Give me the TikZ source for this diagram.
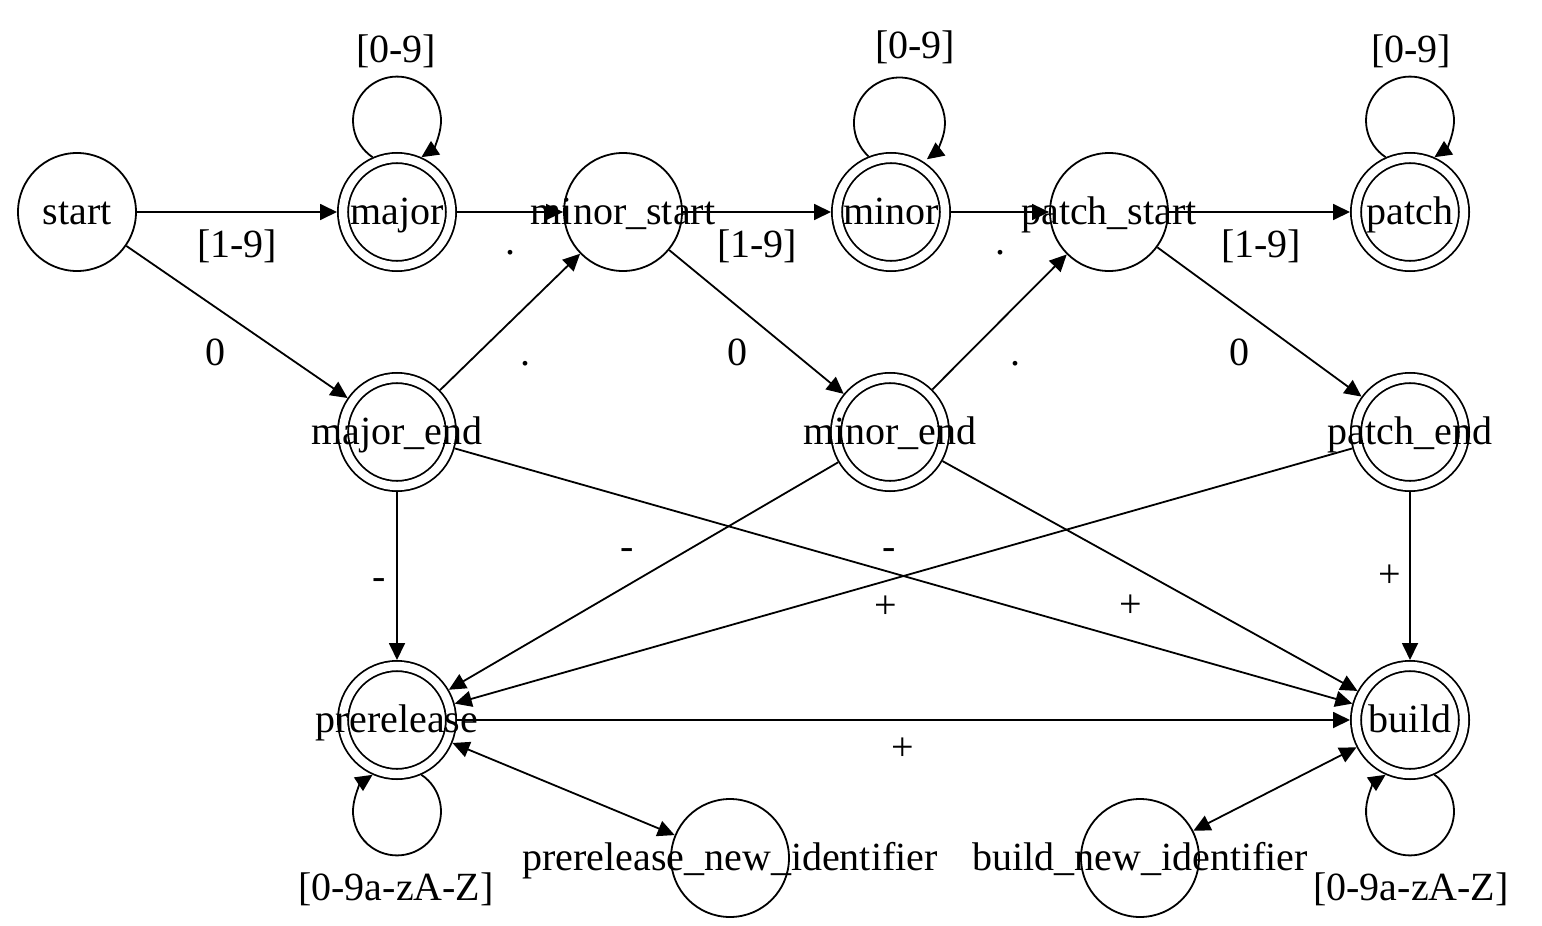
\documentclass[tikz,border=0pt]{standalone}
\usepackage{fontspec}
\setmainfont{Liberation Serif}
\usetikzlibrary{arrows.meta}
\begin{document}
\begin{tikzpicture}[x=0.5pt,y=-0.5pt,
  every node/.style={font=\fontsize{20}{24}\selectfont},
  st/.style={circle, draw, line width=0.9pt, minimum size=59pt, inner sep=0pt, text height=14.4pt, text depth=2pt},
  acc/.style={st, double, double distance=4.2pt, minimum size=54pt, outer sep=3pt},
  arr/.style={line width=0.9pt, -{Triangle[length=8.5pt,width=8pt]}},
  barr/.style={line width=0.9pt, {Triangle[length=8.5pt,width=8pt]}-{Triangle[length=8.5pt,width=8pt]}},
  lbl/.style={anchor=base, inner sep=0pt},
]
\useasboundingbox (0,0) rectangle (1542,926);

% states
\node[st]  (start)      at (77,212)   {\makebox[0pt]{start}};
\node[acc] (major)      at (397,212)  {\makebox[0pt]{major}};
\node[st]  (minorstart) at (623,212)  {\makebox[0pt]{minor\_start}};
\node[acc] (minor)      at (891,212)  {\makebox[0pt]{minor}};
\node[st]  (patchstart) at (1109,212) {\makebox[0pt]{patch\_start}};
\node[acc] (patch)      at (1410,212) {\makebox[0pt]{patch}};
\node[acc] (majorend)   at (397,432)  {\makebox[0pt]{major\_end}};
\node[acc] (minorend)   at (890,432)  {\makebox[0pt]{minor\_end}};
\node[acc] (patchend)   at (1410,432) {\makebox[0pt]{patch\_end}};
\node[acc] (prerelease) at (397,720)  {\makebox[0pt]{prerelease}};
\node[acc] (build)      at (1410,720) {\makebox[0pt]{build}};
\node[st]  (pni)        at (730,858)  {\makebox[0pt]{prerelease\_new\_identifier}};
\node[st]  (bni)        at (1140,858) {\makebox[0pt]{build\_new\_identifier}};

% edge labels
\node[lbl] (l1)  at (237,257)  {[1-9]};
\node[lbl] (l2)  at (510,254)  {.};
\node[lbl] (l3)  at (757,257)  {[1-9]};
\node[lbl] (l4)  at (1000,254) {.};
\node[lbl] (l5)  at (1261,257) {[1-9]};
\node[lbl] (l6)  at (396,62)   {[0-9]};
\node[lbl] (l7)  at (915,58)   {[0-9]};
\node[lbl] (l8)  at (1411,62)  {[0-9]};
\node[lbl] (l9)  at (215,365)  {0};
\node[lbl] (l10) at (525,365)  {.};
\node[lbl] (l11) at (737,365)  {0};
\node[lbl] (l12) at (1015,365) {.};
\node[lbl] (l13) at (1239,365) {0};
\node[lbl] (l14) at (379,589)  {-};
\node[lbl] (l15) at (627,559)  {-};
\node[lbl] (l16) at (889,559)  {-};
\node[lbl] (l17) at (886,618)  {+};
\node[lbl] (l18) at (1131,617) {+};
\node[lbl] (l19) at (1390,587) {+};
\node[lbl] (l20) at (903,760)  {+};
\node[lbl] (l21) at (396,900)  {[0-9a-zA-Z]};
\node[lbl] (l22) at (1411,900) {[0-9a-zA-Z]};

% top row
\draw[arr] (start) -- (major);
\draw[arr] (major) -- (minorstart);
\draw[arr] (minorstart) -- (minor);
\draw[arr] (minor) -- (patchstart);
\draw[arr] (patchstart) -- (patch);

% loops on top
\draw[arr] (major.114) arc[start angle=-236.3, end angle=56.3, radius=44];
\draw[arr] (minor.112) arc[start angle=-227.2, end angle=52.9, radius=45.5];
\draw[arr] (patch.114) arc[start angle=-236.3, end angle=56.3, radius=44];

% diagonals
\draw[arr] (start) -- (majorend);
\draw[arr] (majorend) -- (minorstart);
\draw[arr] (minorstart) -- (minorend);
\draw[arr] (minorend) -- (patchstart);
\draw[arr] (patchstart) -- (patchend);

% to prerelease
\draw[arr] (majorend) -- (prerelease);
\draw[arr] (minorend) -- (prerelease);
\draw[arr] (patchend) -- (prerelease);

% to build
\draw[arr] (majorend) -- (build);
\draw[arr] (minorend) -- (build);
\draw[arr] (patchend) -- (build);
\draw[arr] (prerelease) -- (build);

% bottom loops
\draw[arr] (prerelease.-66) arc[start angle=-56.3, end angle=236.3, radius=44];
\draw[arr] (build.-66) arc[start angle=-56.3, end angle=236.3, radius=44];

% new identifiers
\draw[barr] (prerelease) -- (pni);
\draw[barr] (build) -- (bni);
\end{tikzpicture}
\end{document}
